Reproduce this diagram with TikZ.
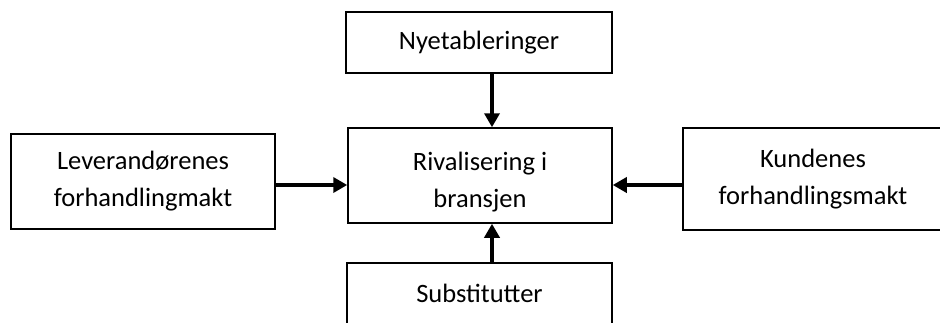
\documentclass[tikz,border=0pt]{standalone}
\usepackage{fontspec}
\setmainfont{Carlito}
\usetikzlibrary{arrows.meta}
\begin{document}
\begin{tikzpicture}
 [x=1pt,y=-1pt,
  every node/.style={draw,line width=1.5pt,align=center,inner sep=0pt,font=\fontsize{26.5}{37}\selectfont},
  pil/.style={line width=3.5pt,-{Triangle[width=15pt,length=14pt]}}]
  \useasboundingbox (0,0) rectangle (940,322);
  \clip (0,0) rectangle (940,322);
  \node (nye) [minimum width=266pt,minimum height=61pt] at (479,42.5) {Nyetableringer};
  \node (riv) [minimum width=264pt,minimum height=95pt,text height=68pt] at (480,175.5) {Rivalisering i\\bransjen};
  \node (lev) [minimum width=264pt,minimum height=95pt] at (143,181.5) {Leverandørenes\\forhandlingmakt};
  \node (kun) [minimum width=260pt,minimum height=102pt] at (813,179) {Kundenes\\forhandlingsmakt};
  \node (sub) [minimum width=265pt,minimum height=61pt] at (479.5,293.5) {Substitutter};

  \draw[pil] ([xshift=13pt]nye.south) -- ([xshift=13pt]nye.south |- riv.north);
  \draw[pil] ([xshift=12.5pt]sub.north) -- ([xshift=12.5pt]sub.north |- riv.south);
  \draw[pil] ([yshift=-3.5pt]lev.east) -- ([yshift=-3.5pt]lev.east -| riv.west);
  \draw[pil] ([yshift=-6pt]kun.west) -- ([yshift=-6pt]kun.west -| riv.east);
\end{tikzpicture}
\end{document}
